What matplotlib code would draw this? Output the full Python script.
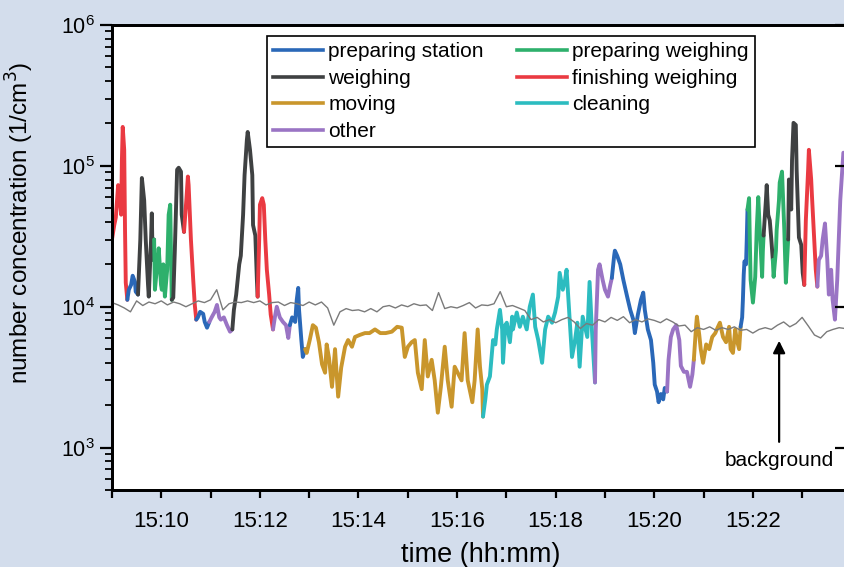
import pandas as pd
import matplotlib.pyplot as plt
import matplotlib.dates as mdates
from matplotlib.ticker import LogLocator, NullFormatter, NullLocator

plt.rcParams['font.family'] = ['Liberation Sans', 'DejaVu Sans']

# measurement segments: seconds after 15:09:00 and concentration (1/cm3)
fin_1_t = [0, 2.8, 4.7, 7.5, 8.4, 11.2, 12.1, 13.1, 14.9, 15.9, 16.8, 18.7]
fin_1_c = [3.0e4, 3.8e4, 4.3e4, 7.3e4, 6.8e4, 4.5e4, 1.1e5, 1.89e5, 1.3e5, 3.5e4, 1.48e4, 1.12e4]
ps_1_t = [18.7, 20.5, 23.3, 25.2, 28.0, 28.9, 31.7]
ps_1_c = [1.12e4, 1.32e4, 1.43e4, 1.66e4, 1.5e4, 1.28e4, 1.22e4]
w_1_t = [31.7, 34.5, 36.4, 39.2, 41.1, 43.9, 44.8, 47.6, 48.5, 49.5, 51.3]
w_1_c = [1.22e4, 3.0e4, 8.2e4, 5.7e4, 3.0e4, 1.43e4, 1.18e4, 3.0e4, 4.6e4, 2.15e4, 3.0e4]
pw_1_t = [51.3, 52.3, 55.1, 56.9, 59.7, 60.7, 62.5, 64.4, 67.2, 69.0, 70.9, 71.8, 72.8]
pw_1_c = [3.0e4, 1.32e4, 2.0e4, 2.6e4, 1.43e4, 1.32e4, 2.0e4, 1.18e4, 1.83e4, 4.5e4, 5.3e4, 2.5e4, 1.12e4]
w_2_t = [72.8, 74.6, 76.5, 79.3, 81.2, 84.0, 84.9, 87.7]
w_2_c = [1.12e4, 1.16e4, 2.5e4, 9.4e4, 9.7e4, 9.1e4, 4.5e4, 3.4e4]
fin_2_t = [87.7, 90.5, 92.4, 93.3, 96.1, 98.9, 100.8, 102.6]
fin_2_c = [3.4e4, 5.7e4, 8.4e4, 7.3e4, 3.0e4, 1.55e4, 1.03e4, 8.1e3]
ps_2_t = [102.6, 104.5, 107.3, 111.0, 112.9, 115.7, 118.5]
ps_2_c = [8.1e3, 8.4e3, 9.2e3, 8.9e3, 7.8e3, 7.1e3, 7.8e3]
oth_1_t = [118.5, 121.3, 125.0, 127.8, 130.6, 132.5, 136.2, 140.0, 143.7, 146.5]
oth_1_c = [7.8e3, 8.4e3, 9.2e3, 1.03e4, 8.4e3, 8.1e3, 8.4e3, 7.4e3, 6.65e3, 6.9e3]
w_3_t = [146.5, 148.4, 151.2, 154.9, 156.8, 159.6, 161.4, 164.2, 165.2, 168.0, 170.8, 171.7,
         174.5, 176.4, 177.3]
w_3_c = [6.9e3, 9.5e3, 1.22e4, 2.0e4, 2.3e4, 4.5e4, 8.6e4, 1.53e5, 1.74e5, 1.3e5, 8.6e4, 3.8e4,
         3.2e4, 1.55e4, 1.18e4]
fin_3_t = [177.3, 179.2, 180.1, 182.9, 184.8, 186.6, 188.5, 191.3, 193.2, 196.0]
fin_3_c = [1.18e4, 3.0e4, 5.3e4, 5.9e4, 5.3e4, 3.0e4, 1.83e4, 1.22e4, 8.8e3, 6.9e3]
oth_2_t = [196.0, 198.8, 200.6, 204.3, 208.1, 211.8, 214.6, 216.5]
oth_2_c = [6.9e3, 8.8e3, 1.0e4, 8.4e3, 7.8e3, 7.4e3, 6.0e3, 7.4e3]
ps_3_t = [216.5, 219.3, 223.0, 224.9, 226.7, 227.7, 230.5, 232.3, 235.1]
ps_3_c = [7.4e3, 8.4e3, 7.8e3, 1.12e4, 1.36e4, 9.5e3, 5.8e3, 4.4e3, 5.0e3]
mov_1_t = [235.1, 237.0, 240.7, 244.5, 248.2, 251.9, 255.7, 259.4, 261.3, 264.1, 267.8, 271.5,
           275.3, 279.0, 283.7, 287.4, 292.1, 295.8, 301.4, 307.9, 313.5, 320.1, 326.6, 333.1,
           340.6, 347.1, 352.7, 356.4, 360.2, 364.8, 368.6, 372.3, 377.0, 380.7, 384.4, 389.1,
           392.8, 396.6, 400.3, 405.0, 408.7, 413.4, 417.1, 420.8, 425.5, 429.2, 433.0, 438.6,
           441.4, 445.1, 447.9, 450.7, 451.6]
mov_1_c = [5.0e3, 4.7e3, 5.8e3, 7.4e3, 7.1e3, 5.6e3, 3.9e3, 3.4e3, 5.4e3, 4.35e3, 2.7e3, 5.0e3,
           2.3e3, 3.7e3, 5.2e3, 5.8e3, 5.2e3, 6.1e3, 6.3e3, 6.5e3, 6.5e3, 6.9e3, 6.5e3, 6.5e3,
           6.65e3, 7.2e3, 7.1e3, 4.4e3, 5.2e3, 5.6e3, 5.8e3, 3.4e3, 2.6e3, 5.8e3, 3.2e3, 4.2e3,
           3.0e3, 1.77e3, 2.7e3, 5.2e3, 3.0e3, 1.95e3, 3.75e3, 3.4e3, 3.0e3, 6.5e3, 3.0e3, 2.1e3,
           3.0e3, 6.9e3, 3.75e3, 2.6e3, 1.66e3]
cln_1_t = [451.6, 454.4, 456.3, 460.0, 463.8, 466.6, 468.4, 472.2, 474.9, 475.9, 478.7, 480.5,
           484.3, 487.1, 488.0, 492.7, 496.4, 500.1, 504.8, 508.5, 512.3, 515.1, 518.8, 523.5,
           527.2, 530.9, 535.6, 539.3, 543.1, 544.9, 548.7, 551.5, 553.3, 556.1, 559.9, 563.6,
           566.4, 569.2, 572.9, 578.5, 581.3, 584.1, 587.9]
cln_1_c = [1.66e3, 2.2e3, 2.8e3, 3.2e3, 5.8e3, 5.4e3, 6.9e3, 9.5e3, 6.9e3, 4.0e3, 7.4e3, 7.7e3,
           5.6e3, 8.5e3, 6.9e3, 9.1e3, 7.2e3, 8.5e3, 6.9e3, 1.0e4, 1.22e4, 7.2e3, 5.8e3, 4.0e3,
           6.9e3, 8.5e3, 7.7e3, 9.1e3, 1.18e4, 1.74e4, 1.32e4, 1.55e4, 1.83e4, 1.0e4, 4.4e3, 5.8e3,
           7.7e3, 3.75e3, 8.5e3, 6.1e3, 1.5e4, 6.9e3, 2.9e3]
oth_3_t = [587.9, 588.8, 591.6, 593.5, 597.2, 600.0, 603.7, 606.5, 608.4]
oth_3_c = [2.9e3, 6.9e3, 1.83e4, 2.0e4, 1.55e4, 1.32e4, 1.18e4, 1.43e4, 1.6e4]
ps_4_t = [608.4, 611.2, 612.1, 614.9, 618.6, 622.4, 627.0, 630.8, 634.5, 636.4, 640.1, 643.8,
          646.6, 648.5, 652.2, 656.0, 658.8, 660.6, 663.4, 665.3, 668.1, 670.9, 672.8, 675.6]
ps_4_c = [1.6e4, 2.3e4, 2.5e4, 2.3e4, 2.0e4, 1.55e4, 1.18e4, 9.5e3, 8.1e3, 6.5e3, 8.8e3, 1.12e4,
          1.26e4, 9.5e3, 6.9e3, 5.8e3, 4.0e3, 2.8e3, 2.5e3, 2.1e3, 2.4e3, 2.2e3, 2.65e3, 2.5e3]
oth_4_t = [675.6, 677.4, 680.2, 683.0, 686.8, 690.5, 692.4, 696.1, 699.8, 703.6, 706.4, 708.2]
oth_4_c = [2.5e3, 4.2e3, 6.1e3, 6.9e3, 7.4e3, 5.8e3, 3.8e3, 3.45e3, 3.45e3, 2.7e3, 3.3e3, 4.2e3]
mov_2_t = [708.2, 711.0, 711.9, 714.8, 716.6, 719.4, 723.2, 726.9, 730.6, 734.3, 737.1, 739.9,
           743.7, 747.4, 751.1, 753.0, 755.8, 758.6, 760.5, 763.3, 765.1]
mov_2_c = [4.2e3, 7.4e3, 8.5e3, 6.3e3, 5.0e3, 4.0e3, 5.4e3, 5.0e3, 6.1e3, 6.5e3, 7.1e3, 7.7e3,
           6.1e3, 5.6e3, 7.2e3, 5.0e3, 4.7e3, 6.9e3, 5.8e3, 5.0e3, 7.2e3]
ps_5_t = [765.1, 767.0, 767.9, 768.9, 769.8, 771.7, 772.6, 773.5]
ps_5_c = [7.2e3, 8.4e3, 1.12e4, 1.69e4, 2.1e4, 2.0e4, 3.0e4, 4.9e4]
pw_2_t = [773.5, 775.4, 776.3, 777.3, 780.1, 782.9, 784.7, 786.6, 788.5, 791.3, 792.2, 793.1]
pw_2_c = [4.9e4, 5.9e4, 3.0e4, 1.55e4, 1.07e4, 1.63e4, 3.5e4, 6.0e4, 3.5e4, 1.63e4, 2.5e4, 3.2e4]
w_4_t = [793.1, 795.9, 796.9, 798.7, 800.6, 802.5, 804.3]
w_4_c = [3.2e4, 5.7e4, 7.3e4, 4.5e4, 4.1e4, 3.0e4, 2.15e4]
pw_3_t = [804.3, 805.3, 808.1, 809.0, 811.8, 812.7, 815.5, 818.3, 820.2, 823.0]
pw_3_c = [2.15e4, 1.63e4, 2.5e4, 3.5e4, 5.7e4, 7.6e4, 9.1e4, 3.5e4, 1.48e4, 3.0e4]
w_5_t = [823.0, 823.9, 826.7, 827.7, 829.5, 832.3, 833.3, 836.1, 838.9, 840.7, 842.6]
w_5_c = [3.0e4, 8.0e4, 4.9e4, 1.1e5, 2.02e5, 1.95e5, 9.4e4, 3.1e4, 2.75e4, 1.74e4, 1.43e4]
fin_4_t = [842.6, 844.5, 847.3, 848.2, 851.0, 851.9, 854.7, 856.6, 858.5]
fin_4_c = [1.43e4, 4.1e4, 9.4e4, 1.3e5, 8.0e4, 6.2e4, 3.0e4, 1.83e4, 1.39e4]
oth_5_t = [858.5, 860.3, 863.1, 865.0, 867.8, 870.6, 872.5, 875.3, 877.1, 879.9, 882.7, 886.4,
           890.2, 892.0, 895.8]
oth_5_c = [1.39e4, 2.15e4, 2.3e4, 3.0e4, 3.9e4, 2.15e4, 1.22e4, 1.83e4, 1.12e4, 8.1e3, 1.55e4,
           5.7e4, 1.24e5, 1.2e5, 1.2e5]

# background, one reading every 7.5 s
bg_step = 7.5
bg_c = [1.07e4, 1.03e4, 9.8e3, 9.2e3, 1.1e4, 1.02e4, 1.08e4, 1.05e4, 1.1e4, 1.03e4,
        1.08e4, 1.05e4, 1.0e4, 1.05e4, 1.1e4, 1.07e4, 1.12e4, 1.32e4, 9.5e3, 1.05e4,
        1.08e4, 1.07e4, 1.1e4, 1.07e4, 1.1e4, 1.03e4, 1.07e4, 1.08e4, 1.02e4, 1.07e4,
        1.05e4, 1.02e4, 1.08e4, 1.03e4, 1.08e4, 9.8e3, 7.4e3, 9.2e3, 9.7e3, 9.4e3,
        9.5e3, 9.2e3, 9.7e3, 9.2e3, 1.0e4, 1.02e4, 9.8e3, 1.03e4, 1.0e4, 1.05e4,
        1.02e4, 1.03e4, 9.4e3, 1.26e4, 9.7e3, 1.0e4, 9.8e3, 1.02e4, 1.07e4, 9.8e3,
        1.03e4, 1.02e4, 1.05e4, 1.28e4, 1.0e4, 1.02e4, 9.8e3, 9.4e3, 8.1e3, 8.4e3,
        7.8e3, 8.1e3, 7.7e3, 8.1e3, 8.4e3, 7.8e3, 7.0e3, 7.6e3, 7.4e3, 8.1e3,
        7.8e3, 8.4e3, 8.0e3, 8.5e3, 7.7e3, 8.1e3, 7.8e3, 8.2e3, 8.0e3, 7.7e3,
        8.2e3, 7.8e3, 7.3e3, 7.4e3, 6.65e3, 7.1e3, 6.9e3, 7.2e3, 6.8e3, 7.1e3,
        6.9e3, 7.2e3, 6.8e3, 6.9e3, 6.5e3, 6.9e3, 7.1e3, 6.9e3, 7.4e3, 7.8e3,
        7.2e3, 7.6e3, 8.4e3, 7.3e3, 6.3e3, 6.0e3, 6.65e3, 6.9e3, 7.1e3, 7.0e3,
        7.2e3]

activities = ['preparing station', 'weighing', 'moving', 'other',
              'preparing weighing', 'finishing weighing', 'cleaning']
colors = {'preparing station': '#2a68b8', 'weighing': '#3f4142', 'moving': '#c9962c',
          'other': '#9a74c4', 'preparing weighing': '#2eb06c', 'finishing weighing': '#ea3a42',
          'cleaning': '#2cbcc0'}

segments = [
    ('finishing weighing', fin_1_t, fin_1_c), ('preparing station', ps_1_t, ps_1_c),
    ('weighing', w_1_t, w_1_c), ('preparing weighing', pw_1_t, pw_1_c),
    ('weighing', w_2_t, w_2_c), ('finishing weighing', fin_2_t, fin_2_c),
    ('preparing station', ps_2_t, ps_2_c), ('other', oth_1_t, oth_1_c),
    ('weighing', w_3_t, w_3_c), ('finishing weighing', fin_3_t, fin_3_c),
    ('other', oth_2_t, oth_2_c), ('preparing station', ps_3_t, ps_3_c),
    ('moving', mov_1_t, mov_1_c), ('cleaning', cln_1_t, cln_1_c),
    ('other', oth_3_t, oth_3_c), ('preparing station', ps_4_t, ps_4_c),
    ('other', oth_4_t, oth_4_c), ('moving', mov_2_t, mov_2_c),
    ('preparing station', ps_5_t, ps_5_c), ('preparing weighing', pw_2_t, pw_2_c),
    ('weighing', w_4_t, w_4_c), ('preparing weighing', pw_3_t, pw_3_c),
    ('weighing', w_5_t, w_5_c), ('finishing weighing', fin_4_t, fin_4_c),
    ('other', oth_5_t, oth_5_c),
]

start = pd.Timestamp('2019-01-01 15:09:00')
end = pd.Timestamp('2019-01-01 15:23:57')


def to_time(sec):
    return start + pd.to_timedelta(sec, unit='s')


fig = plt.figure(figsize=(8.45, 5.67), dpi=100, facecolor='#d3ddec')
ax = fig.add_axes([0.1325, 0.1358, 0.8722, 0.8201])

for act, t, c in segments:
    ax.plot(to_time(t), c, color=colors[act], lw=2.8, solid_capstyle='round',
            solid_joinstyle='round', zorder=2)

bg_t = [i * bg_step for i in range(len(bg_c))]
ax.plot(to_time(bg_t), bg_c, color='#7a7a7a', lw=1.0, zorder=3)

handles = [plt.Line2D([], [], color=colors[a], lw=2.6) for a in activities]
leg = ax.legend(handles, activities, ncol=2, loc='upper left', bbox_to_anchor=(0.2103, 0.976),
                borderaxespad=0, fontsize=15, frameon=True, fancybox=False, framealpha=1,
                edgecolor='black', borderpad=0.3, labelspacing=0.36, handlelength=2.4,
                handletextpad=0.25, columnspacing=1.6)
leg.get_frame().set_linewidth(1.2)

# arrow pointing at the background curve
arrow_tip = (812, 6.0e3)
arrow_tail = (812, 1.05e3)
label_c = 8.1e2
ax.annotate('', xy=(to_time(arrow_tip[0]), arrow_tip[1]),
            xytext=(to_time(arrow_tail[0]), arrow_tail[1]),
            arrowprops=dict(arrowstyle='-|>', color='black', lw=1.6, mutation_scale=18))
ax.text(to_time(arrow_tail[0]), label_c, 'background', ha='center', va='center', fontsize=15)

ax.set_yscale('log')
ax.set_ylim(500, 1e6)
ax.set_xlim(start, end)
ax.yaxis.set_major_locator(LogLocator(base=10, numticks=10))
ax.yaxis.set_minor_locator(LogLocator(base=10, subs=range(2, 10), numticks=20))
ax.yaxis.set_minor_formatter(NullFormatter())
ax.xaxis.set_major_locator(mdates.MinuteLocator(byminute=range(0, 60, 2)))
ax.xaxis.set_minor_locator(mdates.MinuteLocator(byminute=range(1, 60, 2)))
ax.xaxis.set_major_formatter(mdates.DateFormatter('%H:%M'))

ax.tick_params(axis='y', which='major', direction='out', length=9, width=1.6, labelsize=15.5)
ax.tick_params(axis='y', which='minor', direction='out', length=5, width=1.3)
ax.tick_params(axis='x', which='both', direction='out', length=6, width=1.6, labelsize=16, pad=9)
for s in ax.spines.values():
    s.set_linewidth(2.0)

ax.set_xlabel('time (hh:mm)', fontsize=19.5, labelpad=7)
ax.set_ylabel('number concentration (1/cm$^3$)', fontsize=17.5)
ax.yaxis.set_label_coords(-0.103, 0.575)

# inward ticks on the right frame
ax2 = ax.twinx()
ax2.set_yscale('log')
ax2.set_ylim(500, 1e6)
ax2.yaxis.set_major_locator(LogLocator(base=10, numticks=10))
ax2.yaxis.set_minor_locator(NullLocator())
ax2.tick_params(axis='y', direction='in', length=10, width=1.6, labelright=False)
for s in ax2.spines.values():
    s.set_linewidth(2.0)

fig.savefig('out.png', dpi=100, facecolor=fig.get_facecolor())
